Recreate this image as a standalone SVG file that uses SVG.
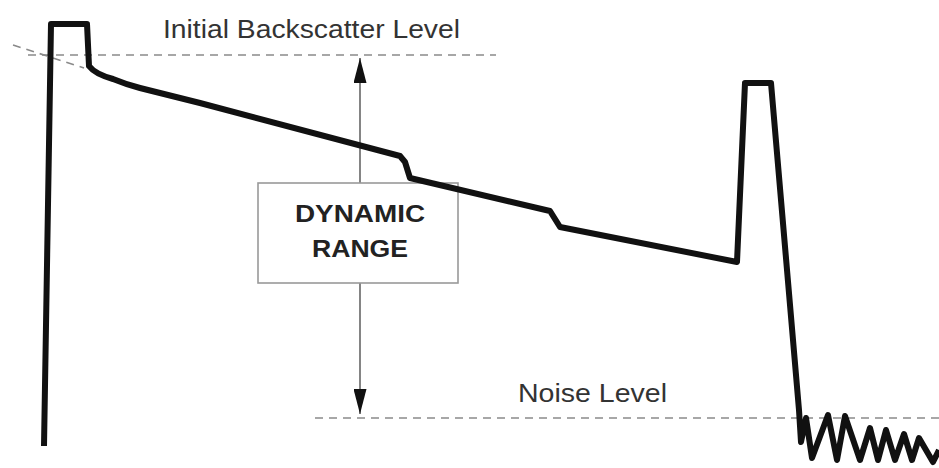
<svg xmlns="http://www.w3.org/2000/svg" width="939" height="468" viewBox="0 0 939 468">
  <style>
    .dash { stroke: #8a8a8a; stroke-width: 1.6; stroke-dasharray: 8 6; fill: none; }
    .trace { stroke: #111; stroke-width: 6; fill: none; stroke-linejoin: round; stroke-linecap: butt; }
    .lbl { font-family: "Liberation Sans", Arial, sans-serif; fill: #333; font-size: 25px; }
    .big { font-family: "Liberation Sans", Arial, sans-serif; fill: #222; font-size: 24px; font-weight: bold; }
  </style>
  <defs>
    <marker id="ah" viewBox="0 0 10 10" refX="10" refY="5" markerWidth="25" markerHeight="13" markerUnits="userSpaceOnUse" orient="auto" preserveAspectRatio="none">
      <path d="M0,0 L10,5 L0,10 z" fill="#111"/>
    </marker>
  </defs>
  <rect width="939" height="468" fill="#fff"/>
  <g id="levels">
    <line class="dash" x1="28" y1="55" x2="496" y2="55"/>
    <line class="dash" x1="13" y1="45" x2="84" y2="68"/>
    <line class="dash" x1="315" y1="418" x2="939" y2="418"/>
  </g>
  <g id="connectors">
    <line x1="360" y1="90" x2="360" y2="58" stroke="#666" stroke-width="1.6" marker-end="url(#ah)"/>
    <line x1="360" y1="90" x2="360" y2="414" stroke="#666" stroke-width="1.6" marker-end="url(#ah)"/>
  </g>
  <g id="dynamic-range">
    <rect x="258" y="183" width="200" height="100" fill="#fff" stroke="#999" stroke-width="1.6"/>
    <text class="big" x="360" y="222" text-anchor="middle" textLength="130" lengthAdjust="spacingAndGlyphs">DYNAMIC</text>
    <text class="big" x="360" y="257" text-anchor="middle" textLength="96" lengthAdjust="spacingAndGlyphs">RANGE</text>
  </g>
  <g id="trace">
    <path class="trace" d="M44,446 L51,24 L87,24 L89,66 Q95,74 113,79 Q125,84 140,88 L200,103 L400,156 L405,162 L410,178 L550,211 L560,227 L737,262 L745,83 L771,83 L799,410 L801,442 L806,418 L812,458 L828,415 L837,460 L845,416 L860,460 L870,428 L878,460 L886,430 L895,460 L904,434 L912,460 L919,438 L933,462 L939,450"/>
  </g>
  <g id="label-initial">
    <text class="lbl" x="163" y="38" textLength="297" lengthAdjust="spacingAndGlyphs">Initial Backscatter Level</text>
  </g>
  <g id="label-noise">
    <text class="lbl" x="518" y="402" textLength="149" lengthAdjust="spacingAndGlyphs">Noise Level</text>
  </g>
</svg>
